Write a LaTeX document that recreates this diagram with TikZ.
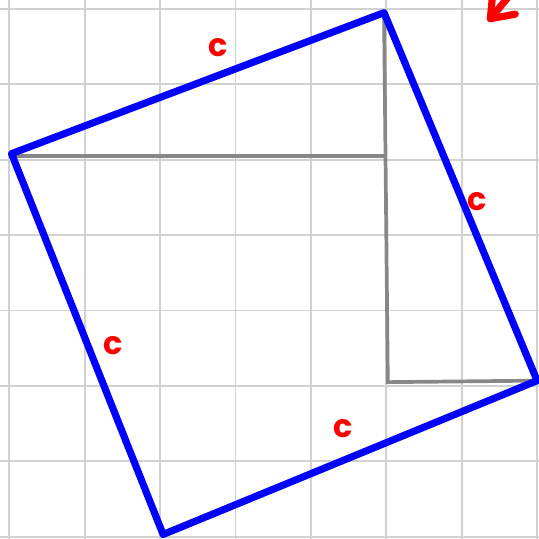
\documentclass[tikz,border=0pt]{standalone}
\usepackage{fontspec}
\setsansfont{Poppins}
\usetikzlibrary{positioning}

\begin{document}
\begin{tikzpicture}[
        side/.style={
            draw=blue,
            line width=2.7pt,
            line join=round,
            line cap=round
        },
        leg/.style={
            draw=black!47,
            line width=1.4pt
        },
        lbl/.style={
            text=red,
            inner sep=0pt,
            font=\sffamily\bfseries\fontsize{12}{12}\selectfont
        }
    ]

    % Frame and grid
    \useasboundingbox (-0.123,-0.03) rectangle (7.025,7.118);
    \clip (-0.123,-0.03) rectangle (7.025,7.118);
    \draw[black!18, line width=0.7pt] (-0.5,-0.5) grid (7.5,7.5);

    % Corners of the tilted square
    \coordinate (tl) at (0.03,5.08);
    \coordinate (tr) at (4.97,6.95);
    \coordinate (br) at (7.0,2.07);
    \coordinate (bl) at (2.04,0.03);

    % Corners of the inner right triangles
    \coordinate (mid) at (5.0,5.05);
    \coordinate (low) at (5.02,2.05);

    % Legs
    \draw[leg] (tl |- mid) -- (mid);
    \draw[leg] (tr) -- (low) -- (br);

    % Sides
    \draw[side] (tl) -- (tr) -- (br) -- (bl) -- cycle;

    % Side labels
    \node[lbl] (ctop) at (2.77,6.49) {c};
    \node[lbl] (cright) at (6.2,4.44) {c};
    \node[lbl] (cleft) at (1.38,2.54) {c};
    \node[lbl] (cbottom) at (4.43,1.43) {c};

    % Arrow mark in the corner
    \coordinate (tip) at (6.38,6.87);
    \draw[red, line width=2.7pt, line cap=round, line join=round]
        (6.42,7.3) -- (tip) -- (6.71,6.93);
    \draw[red, line width=2.7pt, line cap=round] (tip) -- (6.9,7.5);

\end{tikzpicture}
\end{document}
